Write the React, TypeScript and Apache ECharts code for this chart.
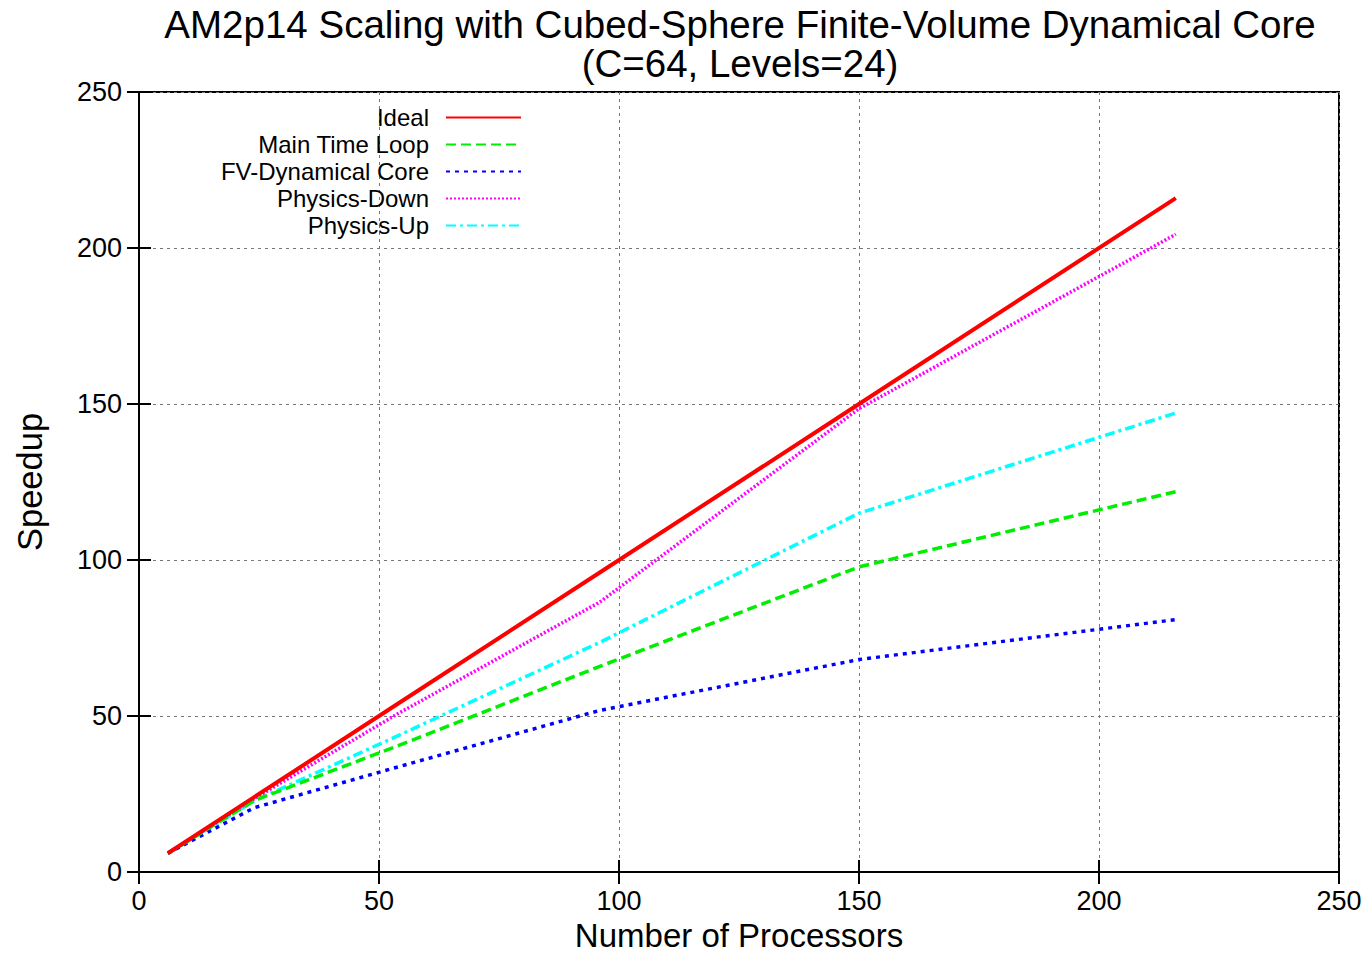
import React, { useEffect, useRef } from "react";
import * as echarts from "echarts";

const processors = [6, 24, 54, 96, 150, 216];
const ideal = [6, 24, 54, 96, 150, 216];
const mainTimeLoop = [6, 22.9, 40.5, 65.9, 97.8, 121.9];
const fvDynamicalCore = [6, 20.6, 33.7, 51.8, 68.1, 80.9];
const physicsDown = [6, 23.5, 50.8, 86.5, 148.5, 204.4];
const physicsUp = [6, 22.8, 43.7, 73.6, 115, 147.1];
const seriesNames = ["Ideal", "Main Time Loop", "FV-Dynamical Core", "Physics-Down", "Physics-Up"];

const FONT = "'Liberation Sans', Arial, Helvetica, sans-serif";

export default function App() {
  const ref = useRef<HTMLDivElement>(null);
  useEffect(() => {
    if (!ref.current) return;
    const chart = echarts.init(ref.current, null, { renderer: "svg" });
    const pairs = (ys: number[]) => processors.map((x, i) => [x, ys[i]]);
    const styles = [
      { color: "#ff0000", width: 4, type: "solid" as any },
      { color: "#00ee00", width: 3.5, type: [10, 5] },
      { color: "#0000ff", width: 3.5, type: [4, 5] },
      { color: "#ff00ff", width: 3.5, type: [2, 2] },
      { color: "#00ffff", width: 3.5, type: [10, 4, 3, 4] },
    ];
    const datasets = [ideal, mainTimeLoop, fvDynamicalCore, physicsDown, physicsUp];
    const axisCommon = {
      type: "value",
      min: 0,
      max: 250,
      interval: 50,
    };
    const tick = { show: true, inside: true, length: 12, lineStyle: { color: "#000", width: 2 } };
    const axisLine = { show: true, lineStyle: { color: "#000", width: 2 } };
    chart.setOption({
      animation: false,
      backgroundColor: "#ffffff",
      title: {
        text: "AM2p14 Scaling with Cubed-Sphere Finite-Volume Dynamical Core\n(C=64, Levels=24)",
        left: 735,
        top: 0,
        textAlign: "center",
        textStyle: { fontFamily: FONT, fontSize: 38.5, fontWeight: "normal", color: "#000", lineHeight: 39 },
      },
      legend: {
        orient: "vertical",
        align: "right",
        right: 1368 - 527,
        top: 99,
        itemWidth: 75,
        itemHeight: 14,
        itemGap: 0,
        itemStyle: { opacity: 0 },
        textStyle: { fontFamily: FONT, fontSize: 24, lineHeight: 27, color: "#000", padding: [0, 12, 0, 0] },
        data: seriesNames,
      },
      grid: {
        left: 139,
        right: 29,
        top: 92,
        bottom: 83,
        outerBoundsMode: "none",
        containLabel: false,
        show: true,
        borderColor: "#000",
        borderWidth: 2,
      },
      xAxis: [
        {
          ...axisCommon,
          position: "bottom",
          name: "Number of Processors",
          nameLocation: "middle",
          nameGap: 45,
          nameTextStyle: { fontFamily: FONT, fontSize: 33, color: "#000" },
          axisLine,
          axisTick: tick,
          axisLabel: { fontFamily: FONT, fontSize: 27, color: "#000", margin: 15 },
          splitLine: { show: true, lineStyle: { color: "#777", type: [3, 4], width: 1 } },
        },
        {
          ...axisCommon,
          position: "top",
          axisLine,
          axisTick: tick,
          axisLabel: { show: false },
          splitLine: { show: false },
        },
      ],
      yAxis: [
        {
          ...axisCommon,
          position: "left",
          name: "Speedup",
          nameLocation: "middle",
          nameGap: 92,
          nameTextStyle: { fontFamily: FONT, fontSize: 34.5, color: "#000" },
          axisLine,
          axisTick: tick,
          axisLabel: { fontFamily: FONT, fontSize: 27, color: "#000", margin: 17 },
          splitLine: { show: true, lineStyle: { color: "#777", type: [3, 4], width: 1 } },
        },
        {
          ...axisCommon,
          position: "right",
          axisLine,
          axisTick: tick,
          axisLabel: { show: false },
          splitLine: { show: false },
        },
      ],
      series: seriesNames.map((name, i) => ({
        name,
        type: "line",
        xAxisIndex: 0,
        yAxisIndex: 0,
        data: pairs(datasets[i]),
        symbol: "none",
        showSymbol: false,
        z: 10 - i,
        color: styles[i].color,
        lineStyle: { color: styles[i].color, width: styles[i].width, type: styles[i].type },
      })),
    });
    return () => chart.dispose();
  }, []);
  return (
    <div
      ref={ref}
      style={{ position: "fixed", left: 0, top: 0, width: 1368, height: 955, background: "#fff" }}
    />
  );
}
